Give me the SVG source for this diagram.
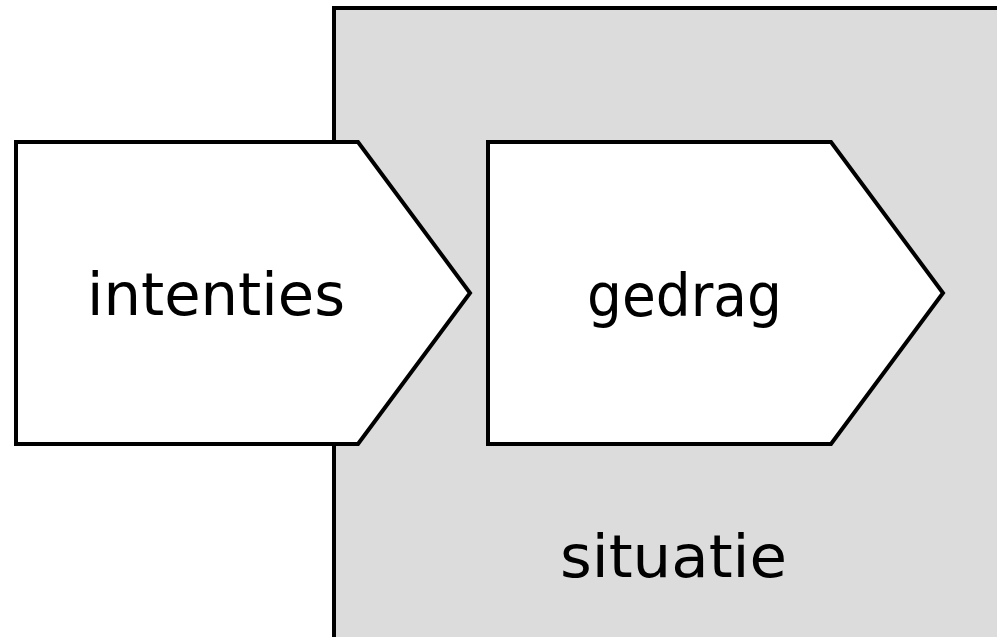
<svg xmlns="http://www.w3.org/2000/svg" width="997" height="637" viewBox="0 0 997 637">
<style>
.shape{stroke:#000;stroke-width:4;stroke-linejoin:miter}
.lbl{font-family:"DejaVu Sans","Liberation Sans",sans-serif;font-size:58px;fill:#000}
</style>
<rect width="997" height="637" fill="#fff"/>
<g id="situatie">
<rect class="shape" x="334" y="8" width="680" height="650" fill="#dcdcdc"/>
<text class="lbl" x="560" y="577" textLength="227" lengthAdjust="spacingAndGlyphs">situatie</text>
</g>
<g id="intenties">
<polygon class="shape" points="16,142 358,142 470,293 358,444 16,444" fill="#fff"/>
<text class="lbl" x="87" y="315" textLength="258" lengthAdjust="spacingAndGlyphs">intenties</text>
</g>
<g id="gedrag">
<polygon class="shape" points="488,142 831,142 943,293 831,444 488,444" fill="#fff"/>
<text class="lbl" x="587" y="316" textLength="195" lengthAdjust="spacingAndGlyphs">gedrag</text>
</g>
<g id="connectors"></g>
</svg>
